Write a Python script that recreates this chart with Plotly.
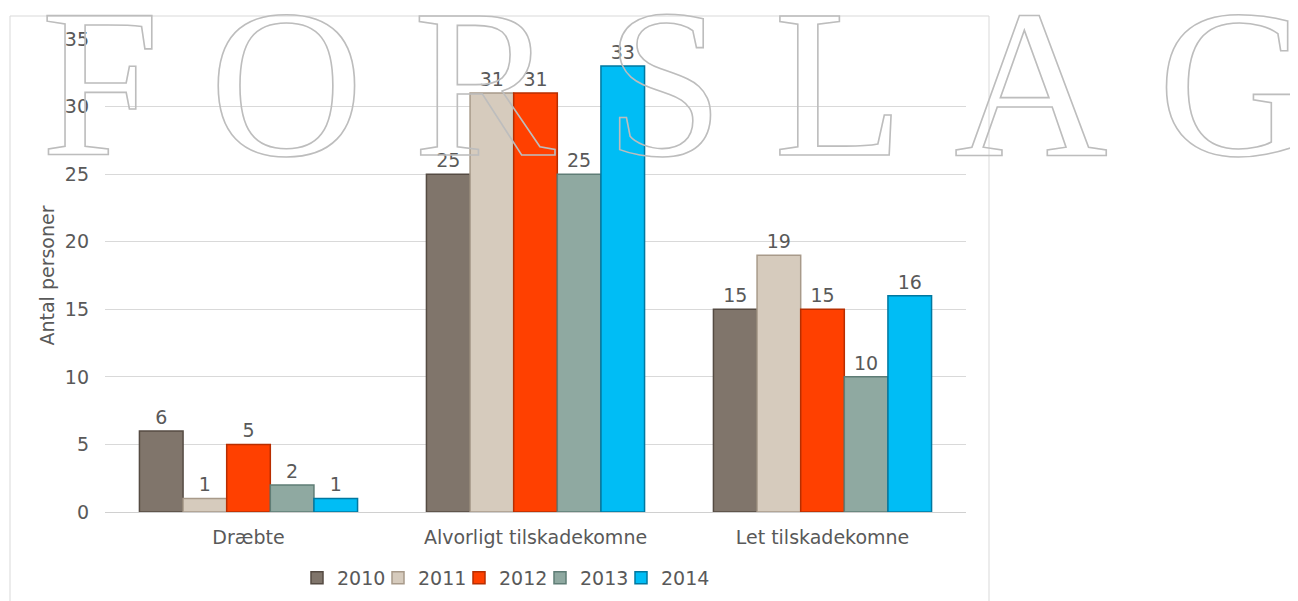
import plotly.graph_objects as go

categories = ["Dræbte", "Alvorligt tilskadekomne", "Let tilskadekomne"]
years = ["2010", "2011", "2012", "2013", "2014"]
values = {
    "2010": [6, 25, 15],
    "2011": [1, 31, 19],
    "2012": [5, 31, 15],
    "2013": [2, 25, 10],
    "2014": [1, 33, 16],
}
y_ticks = [0, 5, 10, 15, 20, 25, 30, 35]
y_title = "Antal personer"
watermark = "FORSLAG"

fill_colors = {
    "2010": "#80756b",
    "2011": "#d6cbbd",
    "2012": "#ff4000",
    "2013": "#8fa9a1",
    "2014": "#00bdf5",
}
edge_colors = {
    "2010": "#554b43",
    "2011": "#a89a8a",
    "2012": "#b82e00",
    "2013": "#5f7d76",
    "2014": "#0078a0",
}

# the page body adds an 8px offset; lay out in reference-window pixels
OFF = 8
W, H = 1298 - OFF, 601 - OFF
PLOT_L, PLOT_R, PLOT_T, PLOT_B = 105, 966, 39, 512  # reference pixels
L = PLOT_L - OFF
T = PLOT_T - OFF
R = W - (PLOT_R - OFF)
B = H - (PLOT_B - OFF)
PW, PH = PLOT_R - PLOT_L, PLOT_B - PLOT_T


def px_x(px):
    return (px - PLOT_L) / PW


def px_y(py):
    return (PLOT_B - py) / PH


FONT = "DejaVu Sans"
TXT = "#595959"
FS = 19

fig = go.Figure()
for yr in years:
    fig.add_trace(go.Bar(
        name=yr,
        x=categories,
        y=values[yr],
        text=values[yr],
        textposition="outside",
        textfont=dict(family=FONT, size=FS, color=TXT),
        cliponaxis=False,
        offsetgroup=yr,
        marker=dict(color=fill_colors[yr], line=dict(color=edge_colors[yr], width=1.5)),
    ))

# invisible spacer legend entry (shares the 2014 slot) so the last label is not clipped
fig.add_trace(go.Bar(
    name=" ",
    x=categories,
    y=[None] * len(categories),
    offsetgroup=years[-1],
    marker=dict(color="rgba(0,0,0,0)", line=dict(width=0)),
    hoverinfo="skip",
    showlegend=True,
))

fig.update_layout(
    width=W, height=H,
    margin=dict(l=L, r=R, t=T, b=B, pad=0, autoexpand=False),
    paper_bgcolor="white",
    plot_bgcolor="white",
    barmode="group",
    bargap=0.24,
    bargroupgap=0,
    font=dict(family=FONT, size=FS, color=TXT),
    showlegend=True,
    legend=dict(
        orientation="h",
        x=px_x(297), xanchor="left",
        y=px_y(578), yanchor="middle",
        font=dict(family=FONT, size=FS, color=TXT),
        entrywidth=36, entrywidthmode="pixels",
        traceorder="normal",
        bgcolor="rgba(0,0,0,0)",
    ),
    xaxis=dict(
        showgrid=False,
        showline=False,
        ticks="",
        tickfont=dict(family=FONT, size=FS, color=TXT),
        ticklabelstandoff=12,
        automargin=False,
    ),
    yaxis=dict(
        range=[0, 35],
        tickvals=y_ticks,
        showgrid=True,
        gridcolor="#d9d9d9",
        gridwidth=1,
        zeroline=True,
        zerolinecolor="#d0d0d0",
        zerolinewidth=1,
        ticks="",
        tickfont=dict(family=FONT, size=FS, color=TXT),
        ticklabelstandoff=15,
        automargin=False,
        title=dict(text=y_title, font=dict(family=FONT, size=FS, color=TXT), standoff=5),
    ),
    shapes=[dict(
        type="rect", xref="paper", yref="paper",
        x0=px_x(10), x1=px_x(989), y0=px_y(640), y1=px_y(16),
        line=dict(color="#d9d9d9", width=1),
        fillcolor="rgba(0,0,0,0)",
        layer="below",
    )],
    annotations=[dict(
        text='<span style="fill:none;stroke:#bdbdbd;stroke-width:1.6px;letter-spacing:50px">'
             + watermark + '</span>',
        xref="paper", yref="paper",
        x=px_x(39), xanchor="left",
        y=px_y(83), yanchor="middle",
        showarrow=False,
        font=dict(family="Liberation Serif", size=213, color="rgba(0,0,0,0)"),
    )],
)

fig.write_html("out.html")
